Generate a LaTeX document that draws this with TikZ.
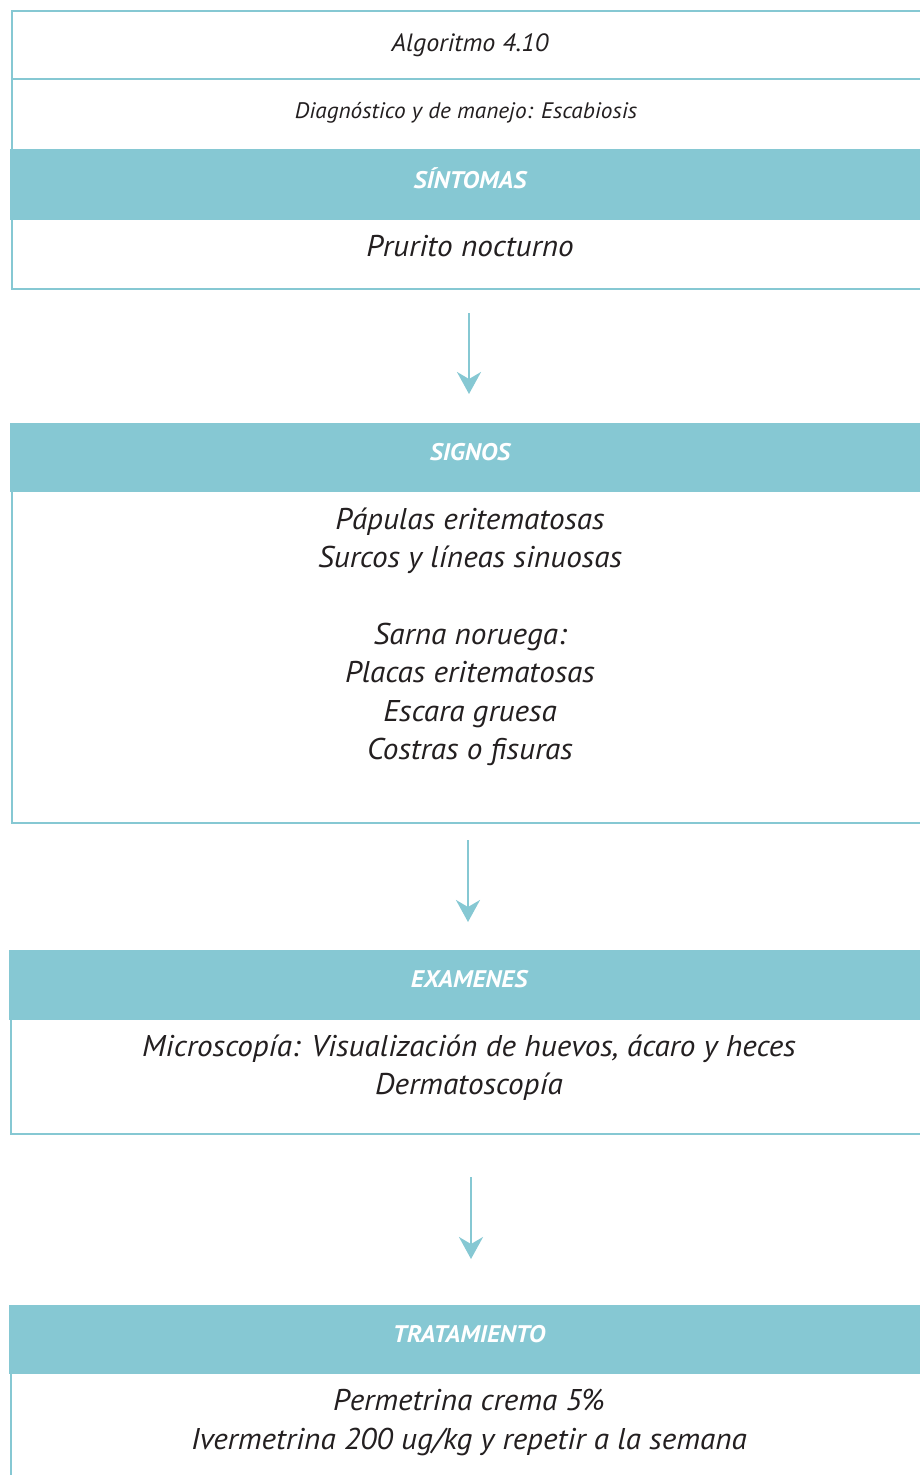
\documentclass[tikz,border=0pt]{standalone}
\usepackage{fontspec}
\usetikzlibrary{arrows.meta}
\setmainfont{PT Sans}
\newfontfamily\bodyfont[FakeStretch=1.04]{PT Sans Italic}
\newfontfamily\headfont[FakeStretch=1.06]{PT Sans Bold Italic}
\definecolor{teal}{HTML}{86C8D3}
\definecolor{ink}{HTML}{231F20}
\tikzset{
  frame/.style={draw=teal, line width=2.4pt, fill=none, inner sep=0pt},
  band/.style={fill=teal, draw=none, inner sep=0pt, anchor=north west},
  hd/.style={text=white, font=\headfont\fontsize{24}{28}\selectfont, anchor=base},
  ln/.style={text=ink, font=\bodyfont\fontsize{30}{36}\selectfont, anchor=base},
  small/.style={text=ink, font=\bodyfont\fontsize{25}{30}\selectfont, anchor=base},
  tiny/.style={text=ink, font=\bodyfont\fontsize{22.4}{27}\selectfont, anchor=base},
  flow/.style={draw=teal, line width=2.2pt, -{Stealth[length=22pt,width=24pt,inset=7pt]}}
}
\begin{document}
\begin{tikzpicture}[x=1pt,y=-1pt]
\useasboundingbox (0,0) rectangle (920,1475);
\clip (0,0) rectangle (920,1475);

% --- Sintomas block
\node[frame, anchor=north west, minimum width=930pt, minimum height=278.5pt] (b1) at (11,9.5) {};
\draw[draw=teal, line width=2.4pt] (11,79) coordinate (r1a) -- (940,79) coordinate (r1b);
\node[band, minimum width=930pt, minimum height=71pt] (h1) at (9.8,149) {};
\node[small] (title) at (470,51) {Algoritmo 4.10};
\node[tiny] (subtitle) at (466,118) {Diagnóstico y de manejo: Escabiosis};
\node[hd] (t1) at (470,188) {SÍNTOMAS};
\node[ln] (p1) at (470,256) {Prurito nocturno};

% --- Signos block
\node[frame, anchor=north west, minimum width=930pt, minimum height=399pt] (b2) at (11,423) {};
\node[band, minimum width=930pt, minimum height=69pt] (h2) at (9.8,423) {};
\node[hd] (t2) at (470,460) {SIGNOS};
\node[ln] (s1) at (470,529) {Pápulas eritematosas};
\node[ln] (s2) at (470,567) {Surcos y líneas sinuosas};
\node[ln] (s3) at (470,644) {Sarna noruega:};
\node[ln] (s4) at (470,682) {Placas eritematosas};
\node[ln] (s5) at (470,721) {Escara gruesa};
\node[ln] (s6) at (470,759) {Costras o fisuras};

% --- Examenes block
\node[frame, anchor=north west, minimum width=930pt, minimum height=183pt] (b3) at (9.8,950) {};
\node[band, minimum width=930pt, minimum height=70pt] (h3) at (8.6,950) {};
\node[hd] (t3) at (469,987) {EXAMENES};
\node[ln] (e1) at (469,1056) {Microscopía: Visualización de huevos, ácaro y heces};
\node[ln] (e2) at (469,1094) {Dermatoscopía};

% --- Tratamiento block
\node[frame, anchor=north west, minimum width=930pt, minimum height=200pt] (b4) at (9.6,1305) {};
\node[band, minimum width=930pt, minimum height=69pt] (h4) at (8.4,1305) {};
\node[hd] (t4) at (469,1342) {TRATAMIENTO};
\node[ln] (m1) at (469,1410) {Permetrina crema 5\%};
\node[ln] (m2) at (469,1449) {Ivermetrina 200 ug/kg y repetir a la semana};

% --- connectors
\coordinate (a1s) at (469,313);  \coordinate (a1e) at (469,394);
\coordinate (a2s) at (468,840);  \coordinate (a2e) at (468,922);
\coordinate (a3s) at (471,1177); \coordinate (a3e) at (471,1259);
\draw[flow] (a1s) -- (a1e);
\draw[flow] (a2s) -- (a2e);
\draw[flow] (a3s) -- (a3e);
\end{tikzpicture}
\end{document}
